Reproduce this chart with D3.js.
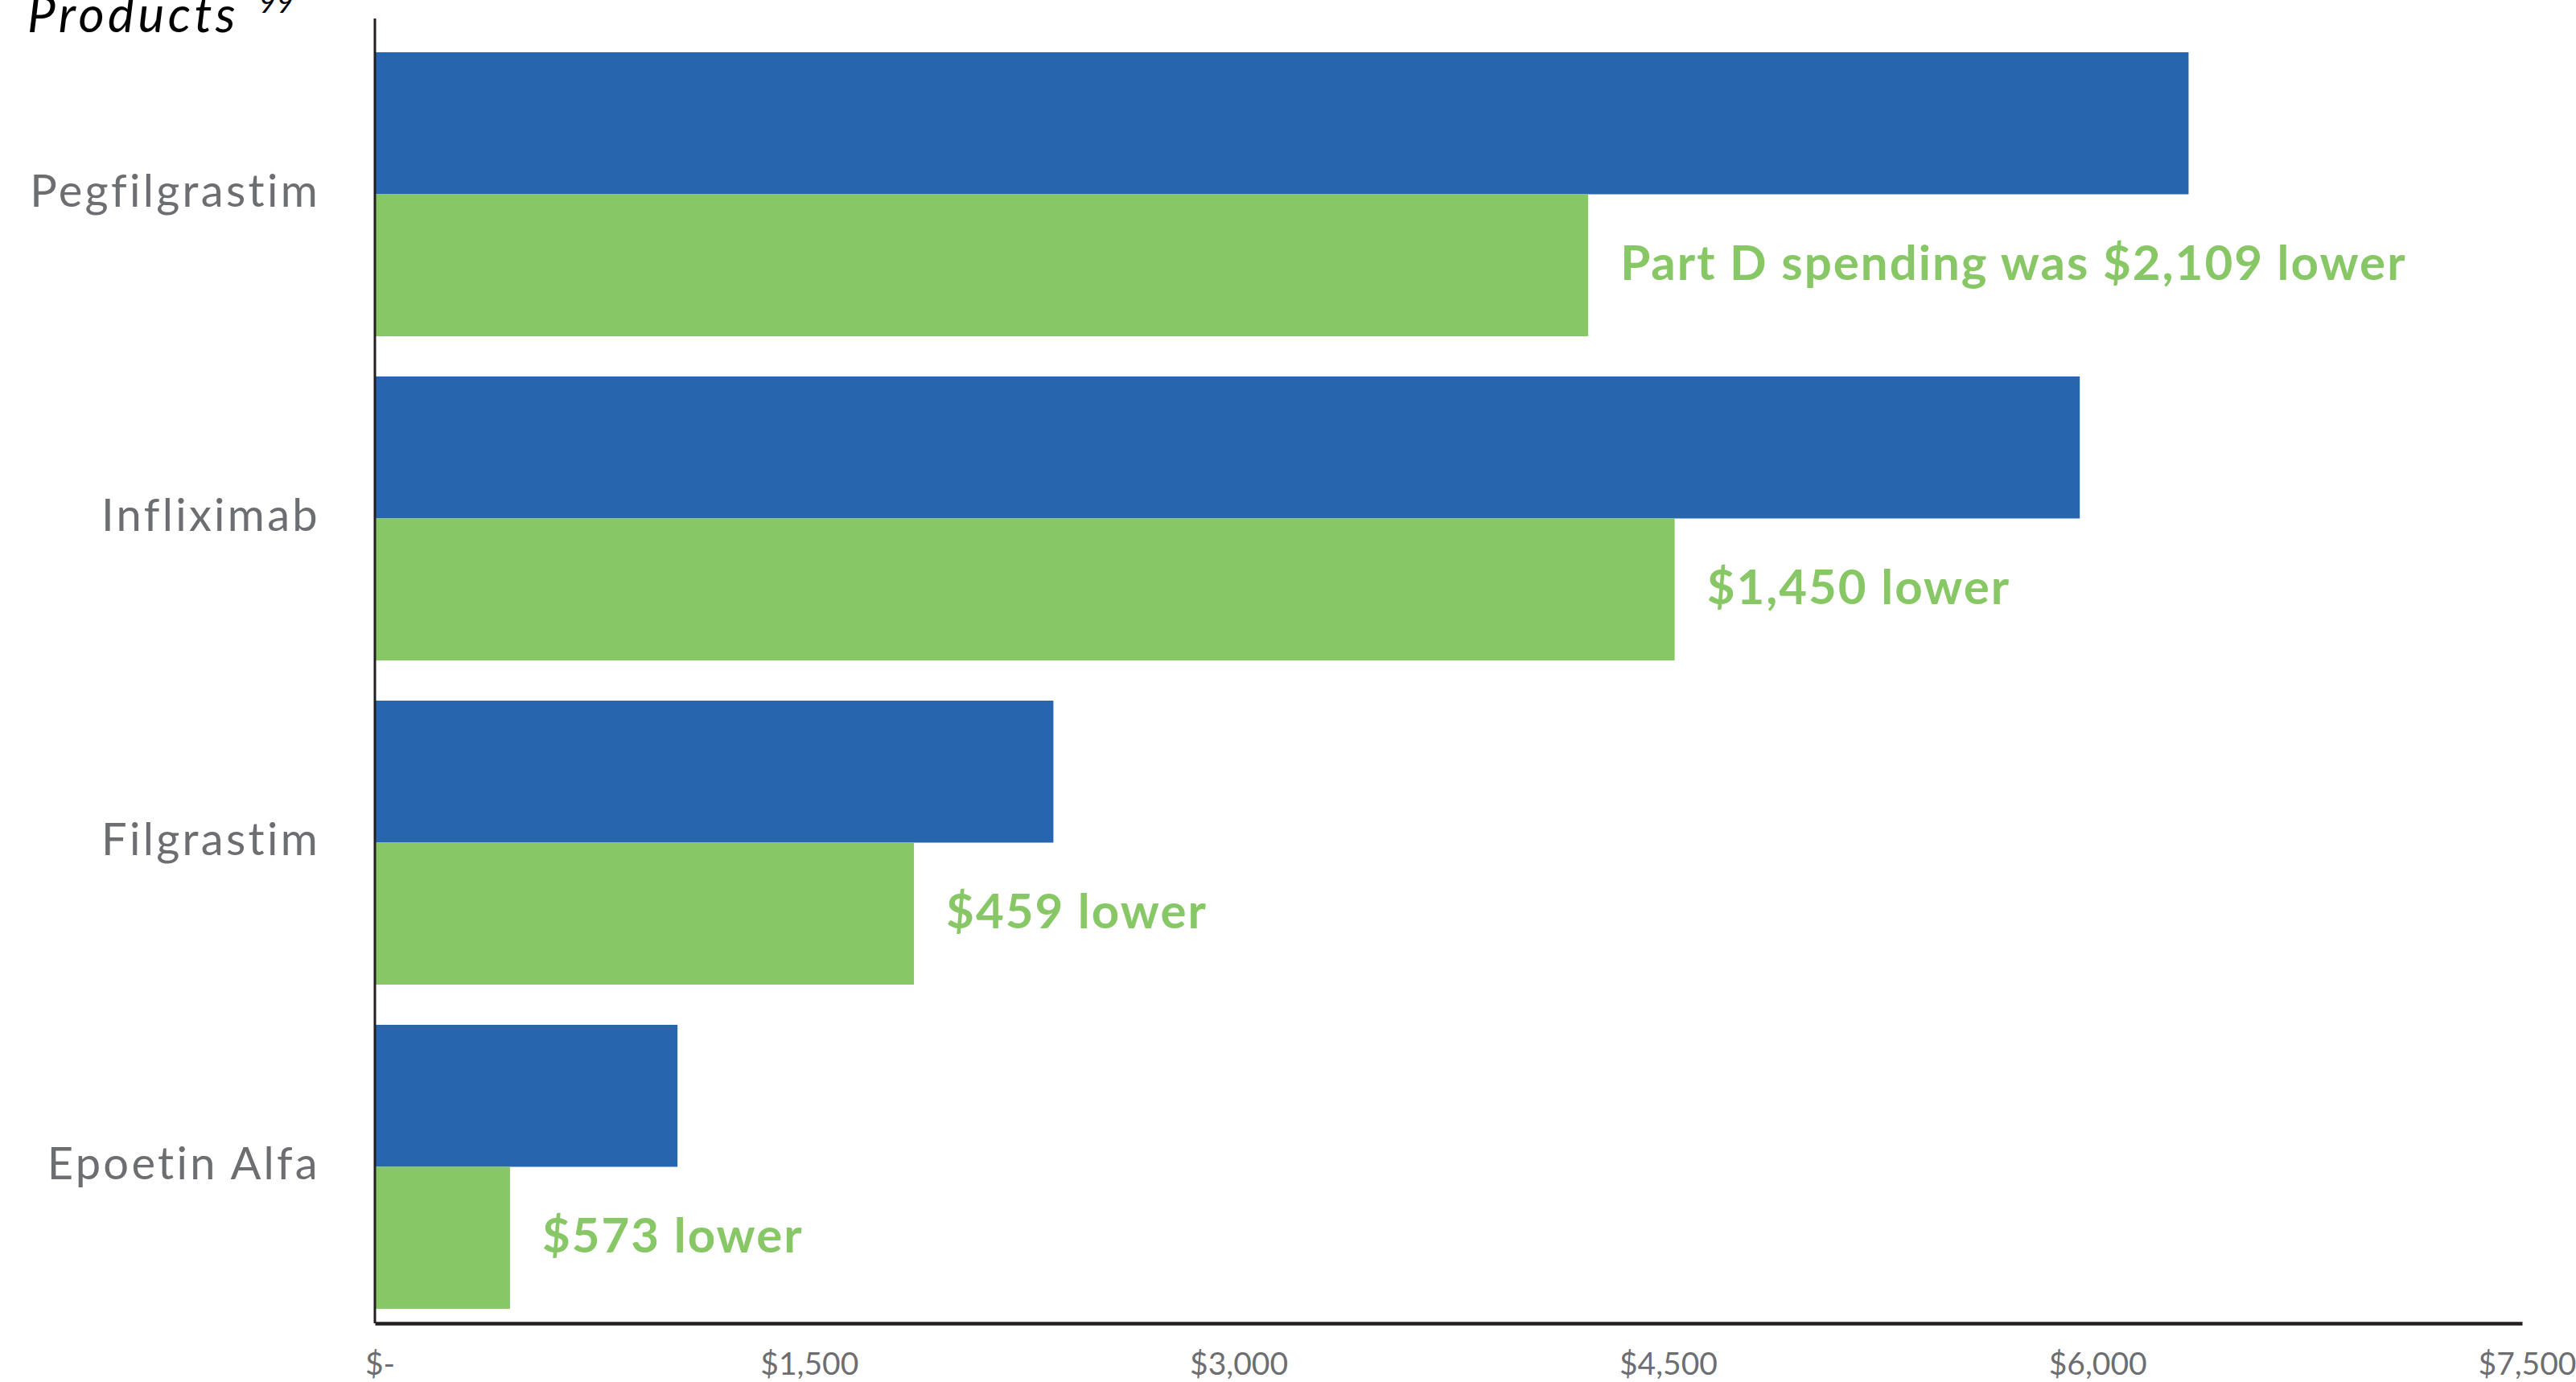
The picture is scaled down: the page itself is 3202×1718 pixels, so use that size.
<!DOCTYPE html>
<html>
<head>
<meta charset="utf-8">
<script src="https://cdn.jsdelivr.net/npm/d3@7"></script>
<style>
  html, body { margin: 0; padding: 0; background: #ffffff; }
  svg { display: block; }
</style>
</head>
<body>
<script>
// ---- data ----
const categories = ["Pegfilgrastim", "Infliximab", "Filgrastim", "Epoetin Alfa"];
const seriesNames = ["Part B", "Part D"];
const partBValues = [6335, 5955, 2370, 1057];
const partDValues = [4238, 4540, 1883, 472];
const diffLabels = ["Part D spending was $2,109 lower", "$1,450 lower", "$459 lower", "$573 lower"];
const tickValues = [0, 1500, 3000, 4500, 6000, 7500];
const tickLabels = ["$-", "$1,500", "$3,000", "$4,500", "$6,000", "$7,500"];

// ---- layout ----
const W = 3202, H = 1718;
const colors = { "Part B": "#2765AE", "Part D": "#88C766" };
const textGray = "#6D6E71";
const axisColor = "#231F20";

const svg = d3.select("body").append("svg").attr("width", W).attr("height", H);

const x = d3.scaleLinear().domain([0, 7500]).range([466, 3135]);
const y = d3.scaleBand().domain(categories).range([65, 1627]).paddingInner(0.124).paddingOuter(0);
const sub = d3.scaleBand().domain(seriesNames).range([0, y.bandwidth()]).padding(0);

const rows = categories.map((c, i) => ({
  cat: c,
  vals: [
    { s: "Part B", v: partBValues[i] },
    { s: "Part D", v: partDValues[i] }
  ],
  label: diffLabels[i],
  d: partDValues[i]
}));

// title fragment (cut off at top, as in the source)
const title = svg.append("text")
  .attr("x", 34).attr("y", 40)
  .attr("font-family", "Lato, sans-serif")
  .attr("font-style", "italic")
  .attr("font-size", 62)
  .attr("letter-spacing", 4.5)
  .attr("fill", "#000");
title.append("tspan").text("Products");
title.append("tspan").attr("x", 322).attr("y", 16).attr("font-size", 36).attr("letter-spacing", 1).text("99");

// bars
const g = svg.append("g");
const groups = g.selectAll("g.row").data(rows).join("g")
  .attr("class", "row")
  .attr("transform", d => `translate(0,${y(d.cat)})`);

groups.selectAll("rect").data(d => d.vals).join("rect")
  .attr("x", x(0))
  .attr("y", d => sub(d.s))
  .attr("width", d => x(d.v) - x(0))
  .attr("height", sub.bandwidth())
  .attr("fill", d => colors[d.s]);

// annotations
groups.append("text")
  .attr("x", d => x(d.d) + 40)
  .attr("y", sub("Part D") + sub.bandwidth() / 2)
  .attr("dy", "0.3em")
  .attr("font-family", "Lato, sans-serif")
  .attr("font-weight", 700)
  .attr("font-size", 60)
  .attr("letter-spacing", 2)
  .attr("fill", colors["Part D"])
  .text(d => d.label);

// y axis labels
const yAxis = d3.axisLeft(y).tickSize(0).tickPadding(68);
const yg = svg.append("g").attr("transform", `translate(${x(0)},0)`).call(yAxis);
yg.select(".domain").remove();
yg.selectAll("text")
  .attr("font-family", "Lato, sans-serif")
  .attr("font-size", 56)
  .attr("letter-spacing", 3.3)
  .attr("fill", textGray)
  .attr("dy", "0.28em");

// vertical axis line
svg.append("line")
  .attr("x1", x(0)).attr("x2", x(0))
  .attr("y1", 23).attr("y2", 1645)
  .attr("stroke", axisColor).attr("stroke-width", 3);

// x axis
const xAxis = d3.axisBottom(x)
  .tickValues(tickValues)
  .tickFormat((d, i) => tickLabels[i])
  .tickSize(0)
  .tickPadding(36);
const xg = svg.append("g").attr("transform", "translate(0,1645)").call(xAxis);
xg.select(".domain").attr("stroke", axisColor).attr("stroke-width", 4.5);
xg.selectAll("text")
  .attr("font-family", "Lato, sans-serif")
  .attr("font-size", 39)
  .attr("dx", 6)
  .attr("fill", textGray);
</script>
</body>
</html>
